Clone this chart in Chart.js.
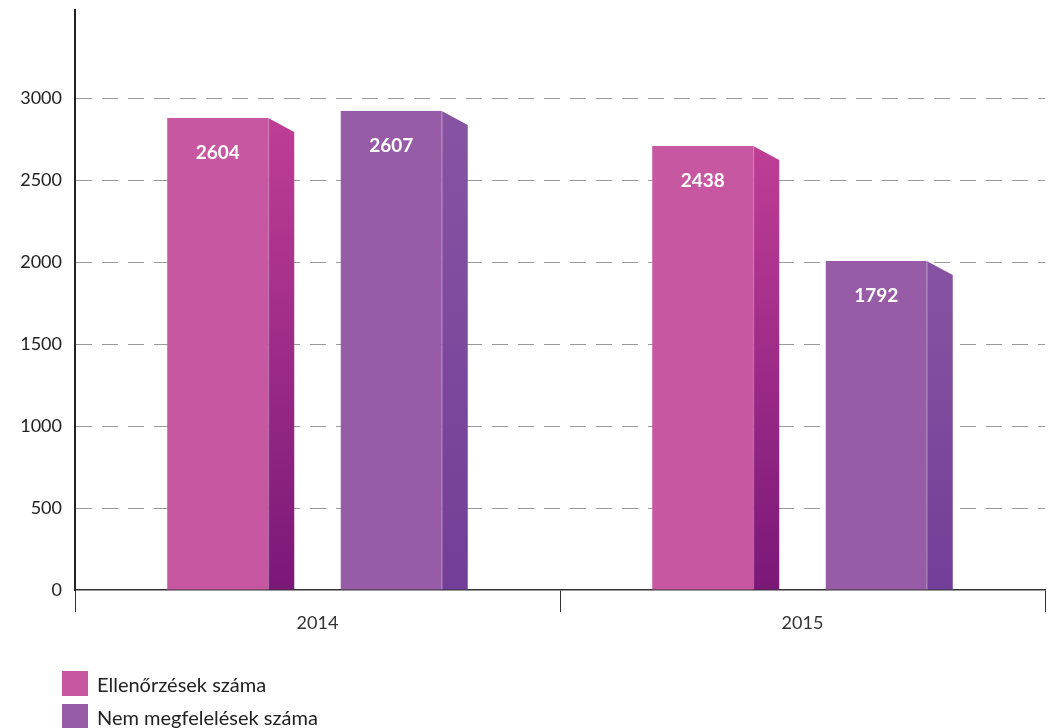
<!DOCTYPE html>
<html>
<head>
<meta charset="utf-8">
<script src="https://cdn.jsdelivr.net/npm/chart.js@4.4.1/dist/chart.umd.min.js"></script>
<style>
  html, body { margin: 0; padding: 0; background: #fff; }
  #wrap { position: relative; width: 1049px; height: 728px; }
  canvas { position: absolute; left: 0; top: 0; }
  .leg { position: absolute; left: 62px; height: 25px; display: flex; align-items: center;
         font-family: Lato, "Open Sans", sans-serif; font-size: 20px; color: #222; }
  .leg span.box { display: inline-block; width: 26px; height: 25px; margin-right: 9px; }
</style>
</head>
<body>
<div id="wrap">
  <canvas id="c" width="1049" height="728"></canvas>
  <div class="leg" id="leg1" style="top:671px"><span class="box" id="box1"></span><span id="t1"></span></div>
  <div class="leg" id="leg2" style="top:704px"><span class="box" id="box2"></span><span id="t2"></span></div>
</div>
<script>
// ---- data ----
const categories = ['2014', '2015'];
const seriesNames = ['Ellenőrzések száma', 'Nem megfelelések száma'];
const ellenorzesekHeights = [2881, 2710];     // bar heights as drawn
const nemMegfelelesekHeights = [2924, 2008];  // bar heights as drawn
const ellenorzesekLabels = ['2604', '2438'];  // printed values
const nemMegfelelesekLabels = ['2607', '1792'];
const yTickValues = [0, 500, 1000, 1500, 2000, 2500, 3000];

// ---- styles ----
const styles = [
  { front: '#C657A0', sideTop: '#BF3E96', sideBottom: '#7A1878' },
  { front: '#985CA6', sideTop: '#8754A3', sideBottom: '#723E98' }
];

document.getElementById('box1').style.background = styles[0].front;
document.getElementById('box2').style.background = styles[1].front;
document.getElementById('t1').textContent = seriesNames[0];
document.getElementById('t2').textContent = seriesNames[1];

const barLabels = [ellenorzesekLabels, nemMegfelelesekLabels];

const bar3d = {
  id: 'bar3d',
  afterDatasetsDraw(chart) {
    const ctx = chart.ctx;
    chart.data.datasets.forEach((ds, di) => {
      const meta = chart.getDatasetMeta(di);
      const st = styles[di];
      meta.data.forEach((el, i) => {
        const p = el.getProps(['x', 'y', 'base', 'width'], true);
        const left = p.x - p.width / 2;
        const right = p.x + p.width / 2;
        const fr = left + p.width * 0.795;
        const depth = 14;
        ctx.save();
        ctx.fillStyle = st.front;
        ctx.fillRect(left, p.y, fr - left, p.base - p.y);
        const g = ctx.createLinearGradient(0, p.y, 0, p.base);
        g.addColorStop(0, st.sideTop);
        g.addColorStop(1, st.sideBottom);
        ctx.fillStyle = g;
        ctx.beginPath();
        ctx.moveTo(fr, p.y);
        ctx.lineTo(right, p.y + depth);
        ctx.lineTo(right, p.base);
        ctx.lineTo(fr, p.base);
        ctx.closePath();
        ctx.fill();
        ctx.strokeStyle = 'rgba(255,255,255,0.25)';
        ctx.lineWidth = 1;
        ctx.beginPath();
        ctx.moveTo(fr + 0.5, p.y);
        ctx.lineTo(fr + 0.5, p.base);
        ctx.stroke();
        ctx.fillStyle = '#ffffff';
        ctx.font = 'bold 19px Lato, "Open Sans", sans-serif';
        ctx.textAlign = 'center';
        ctx.textBaseline = 'middle';
        ctx.fillText(barLabels[di][i], (left + fr) / 2, p.y + 35);
        ctx.restore();
      });
    });
  }
};

new Chart(document.getElementById('c'), {
  type: 'bar',
  data: {
    labels: categories,
    datasets: [
      { label: seriesNames[0], data: ellenorzesekHeights, backgroundColor: 'rgba(0,0,0,0)',
        barPercentage: 0.732, categoryPercentage: 0.7155 },
      { label: seriesNames[1], data: nemMegfelelesekHeights, backgroundColor: 'rgba(0,0,0,0)',
        barPercentage: 0.732, categoryPercentage: 0.7155 }
    ]
  },
  options: {
    responsive: false,
    animation: false,
    layout: { padding: { top: 10, right: 4, left: 0, bottom: 0 } },
    plugins: { legend: { display: false }, tooltip: { enabled: false } },
    scales: {
      x: {
        afterFit(scale) { scale.height = 138; },
        grid: { offset: true, drawOnChartArea: false, drawTicks: true, tickLength: 22, color: '#333', lineWidth: 1 },
        border: { display: true, color: '#333', width: 1.5 },
        ticks: { font: { family: 'Lato, "Open Sans", sans-serif', size: 18 }, color: '#333', padding: 0 }
      },
      y: {
        min: 0, max: 3540,
        afterFit(scale) { scale.width = 75; scale.paddingTop = 0; scale.paddingBottom = 0; },
        afterBuildTicks(scale) { scale.ticks = yTickValues.map(v => ({ value: v })); },
        grid: {
          drawTicks: false,
          color: c => (c.tick && c.tick.value > 0) ? '#9a9a9a' : 'rgba(0,0,0,0)',
          lineWidth: 1
        },
        border: { display: true, color: '#222', width: 2, dash: [16, 10], dashOffset: 0 },
        ticks: { font: { family: 'Lato, "Open Sans", sans-serif', size: 18 }, color: '#222', padding: 13,
                 callback: v => String(v) }
      }
    }
  },
  plugins: [bar3d]
});
</script>
</body>
</html>
